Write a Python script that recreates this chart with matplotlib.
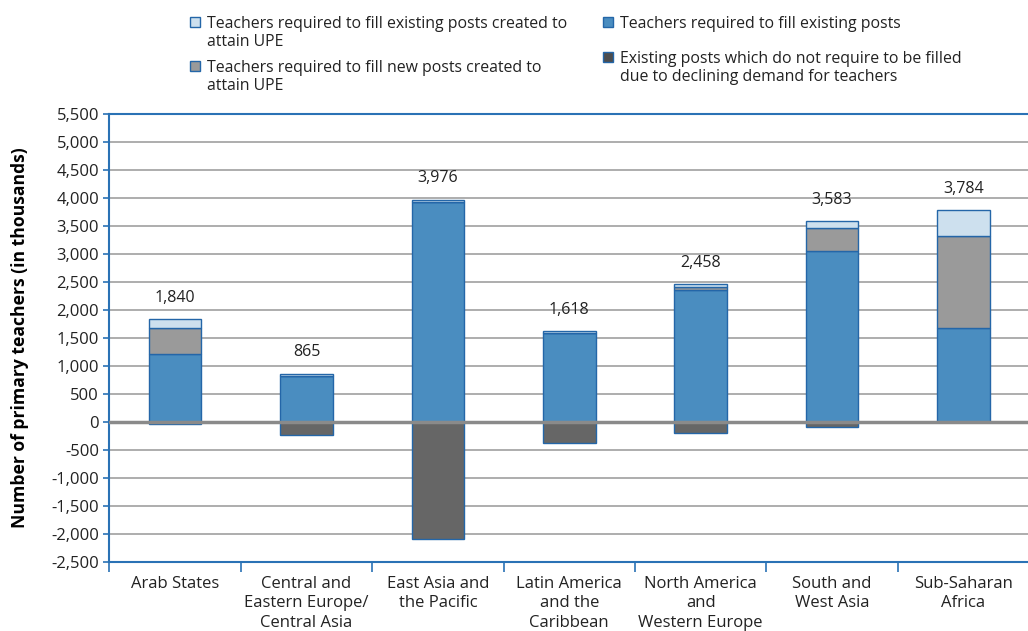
import matplotlib
matplotlib.use("Agg")
import matplotlib.pyplot as plt
from matplotlib.patches import Rectangle
import numpy as np

plt.rcParams['font.family'] = ['Open Sans', 'DejaVu Sans']

# data (thousands of teachers)
regions = ["Arab States", "Central and\nEastern Europe/\nCentral Asia", "East Asia and\nthe Pacific",
           "Latin America\nand the\nCaribbean", "North America\nand\nWestern Europe",
           "South and\nWest Asia", "Sub-Saharan\nAfrica"]
existing_posts = [1210, 815, 3930, 1590, 2360, 3050, 1680]
new_posts_upe = [470, 0, 0, 0, 50, 410, 1650]
existing_posts_upe = [160, 50, 46, 28, 48, 123, 454]
not_filled = [-35, -230, -2090, -380, -190, -90, 0]
totals = [1840, 865, 3976, 1618, 2458, 3583, 3784]

c_light = "#cde0ee"
c_gray = "#9a9a9a"
c_blue = "#4a8dc0"
c_dark = "#666666"
c_edge = "#2466a8"
c_axis = "#2a72b5"

fig = plt.figure(figsize=(10.28, 6.31), dpi=100)
ax = fig.add_axes([0.1065, 0.1098, 0.8945, 0.7091])

x = np.arange(len(regions))
w = 0.4
ax.bar(x, existing_posts, w, color=c_blue, edgecolor=c_edge, linewidth=1, zorder=3)
ax.bar(x, new_posts_upe, w, bottom=existing_posts, color=c_gray, edgecolor=c_edge, linewidth=1, zorder=3)
bot = np.array(existing_posts) + np.array(new_posts_upe)
ax.bar(x, existing_posts_upe, w, bottom=bot, color=c_light, edgecolor=c_edge, linewidth=1, zorder=3)
ax.bar(x, not_filled, w, color=c_dark, edgecolor=c_edge, linewidth=1, zorder=3)

for i, t in enumerate(totals):
    ax.text(x[i], t + 380, f"{t:,}", ha='center', va='center', fontsize=11.5, color='#222222')

ax.axhline(0, color='#8a8a8a', linewidth=2.5, zorder=4)

ax.set_xlim(-0.5, len(regions) - 0.5)
ax.set_ylim(-2500, 5500)
ax.set_yticks(np.arange(-2500, 5501, 500))
ax.set_yticklabels([f"{v:,}" for v in range(-2500, 5501, 500)], fontsize=12, color='#222222')
ax.yaxis.grid(True, color='#a0a0a0', linewidth=1.2, zorder=0)
ax.set_axisbelow(True)

ax.set_xticks(x)
ax.set_xticklabels(regions, fontsize=12, color='#222222', linespacing=1.3)
ax.set_xticks(np.arange(-0.5, len(regions)), minor=True)
ax.tick_params(axis='x', which='major', length=0, pad=10)
ax.tick_params(axis='x', which='minor', length=7, width=1.2, color=c_axis)
ax.tick_params(axis='y', length=4.5, width=1.2, color=c_axis, pad=3)

for s in ['left', 'bottom', 'top']:
    ax.spines[s].set_color(c_axis)
    ax.spines[s].set_linewidth(1.5)
ax.spines['right'].set_visible(False)

ax.set_ylabel("Number of primary teachers (in thousands)", fontsize=12.6, fontweight='bold')
ax.yaxis.set_label_coords(-0.088, 0.5)

# legend drawn by hand to keep its two-column layout
legend_items = [
    (c_light, "Teachers required to fill existing posts created to\nattain UPE", 195, 22),
    (c_gray, "Teachers required to fill new posts created to\nattain UPE", 195, 66),
    (c_blue, "Teachers required to fill existing posts", 608, 22),
    ("#4d4d4d", "Existing posts which do not require to be filled\ndue to declining demand for teachers", 608, 57),
]
for col, lab, px, py in legend_items:
    fig.patches.append(Rectangle(((px - 5) / 1028, 1 - (py + 5) / 631), 10 / 1028, 10 / 631,
                                 transform=fig.transFigure, facecolor=col, edgecolor=c_edge, linewidth=1))
    fig.text((px + 12) / 1028, 1 - (py - 6) / 631, lab, fontsize=11.4, va='top', ha='left',
             color='#222222', linespacing=1.15)

fig.savefig("out.png", dpi=100)
